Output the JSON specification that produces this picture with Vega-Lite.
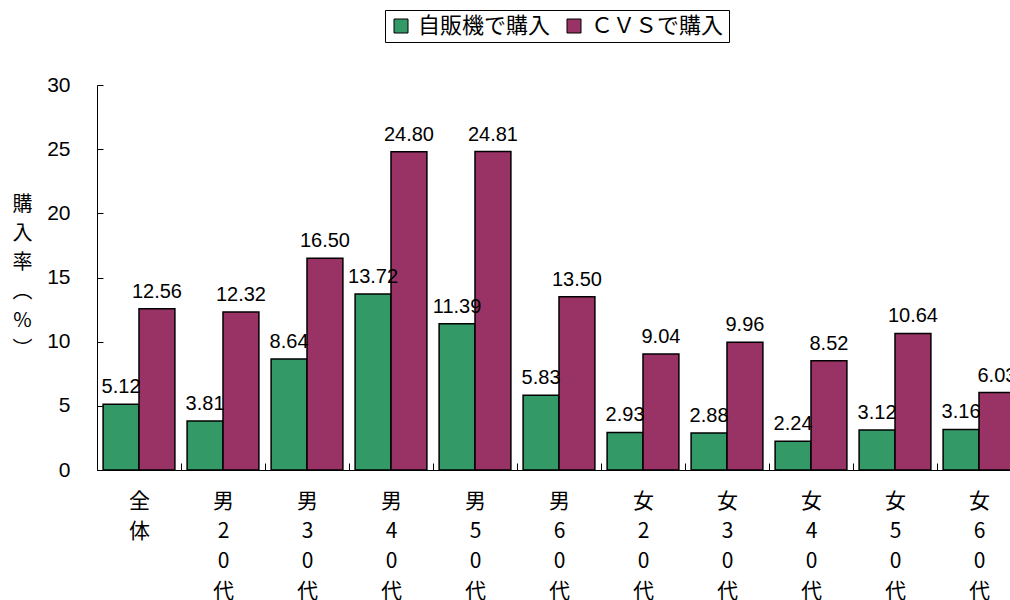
{
  "$schema": "https://vega.github.io/schema/vega-lite/v6.json",
  "width": 924,
  "height": 385,
  "autosize": {"type": "none"},
  "padding": {"left": 97, "top": 85, "right": 0, "bottom": 130},
  "background": "white",
  "config": {"view": {"stroke": null}},
  "data": {
    "values": [
      {"group": "全体", "type": "自販機で購入", "value": 5.12},
      {"group": "全体", "type": "ＣＶＳで購入", "value": 12.56},
      {"group": "男20代", "type": "自販機で購入", "value": 3.81},
      {"group": "男20代", "type": "ＣＶＳで購入", "value": 12.32},
      {"group": "男30代", "type": "自販機で購入", "value": 8.64},
      {"group": "男30代", "type": "ＣＶＳで購入", "value": 16.50},
      {"group": "男40代", "type": "自販機で購入", "value": 13.72},
      {"group": "男40代", "type": "ＣＶＳで購入", "value": 24.80},
      {"group": "男50代", "type": "自販機で購入", "value": 11.39},
      {"group": "男50代", "type": "ＣＶＳで購入", "value": 24.81},
      {"group": "男60代", "type": "自販機で購入", "value": 5.83},
      {"group": "男60代", "type": "ＣＶＳで購入", "value": 13.50},
      {"group": "女20代", "type": "自販機で購入", "value": 2.93},
      {"group": "女20代", "type": "ＣＶＳで購入", "value": 9.04},
      {"group": "女30代", "type": "自販機で購入", "value": 2.88},
      {"group": "女30代", "type": "ＣＶＳで購入", "value": 9.96},
      {"group": "女40代", "type": "自販機で購入", "value": 2.24},
      {"group": "女40代", "type": "ＣＶＳで購入", "value": 8.52},
      {"group": "女50代", "type": "自販機で購入", "value": 3.12},
      {"group": "女50代", "type": "ＣＶＳで購入", "value": 10.64},
      {"group": "女60代", "type": "自販機で購入", "value": 3.16},
      {"group": "女60代", "type": "ＣＶＳで購入", "value": 6.03}
    ]
  },
  "encoding": {
    "x": {
      "field": "group",
      "type": "nominal",
      "sort": null,
      "scale": {"paddingInner": 0, "paddingOuter": 0},
      "axis": {
        "title": null,
        "labelAngle": 0,
        "labelExpr": "split(datum.label, '')",
        "labelFont": "Noto Sans CJK JP",
        "labelFontSize": 21,
        "labelColor": "black",
        "labelLineHeight": 30,
        "labelBaseline": "top",
        "labelPadding": 27,
        "tickBand": "extent",
        "tickSize": -7,
        "tickColor": "black",
        "domainColor": "black",
        "domainWidth": 1
      }
    },
    "xOffset": {
      "field": "type",
      "type": "nominal",
      "sort": ["自販機で購入", "ＣＶＳで購入"],
      "scale": {"paddingInner": 0, "paddingOuter": 0.17}
    },
    "y": {
      "field": "value",
      "type": "quantitative",
      "scale": {"domain": [0, 30]},
      "axis": {
        "values": [0, 5, 10, 15, 20, 25, 30],
        "grid": false,
        "title": ["購", "入", "率", "︵", "%", "︶"],
        "titleAngle": 0,
        "titleFont": "Noto Sans CJK JP",
        "titleFontSize": 20,
        "titleFontWeight": "normal",
        "titleLineHeight": 29,
        "titleX": -75,
        "titleY": 109,
        "titleBaseline": "top",
        "titleAlign": "center",
        "labelFont": "Liberation Sans",
        "labelFontSize": 21,
        "labelColor": "black",
        "labelPadding": 33,
        "tickSize": -6,
        "tickColor": "black",
        "domainColor": "black"
      }
    }
  },
  "layer": [
    {
      "mark": {"type": "bar", "stroke": "black", "strokeWidth": 1.5},
      "encoding": {
        "fill": {
          "field": "type",
          "type": "nominal",
          "sort": ["自販機で購入", "ＣＶＳで購入"],
          "scale": {"domain": ["自販機で購入", "ＣＶＳで購入"], "range": ["#339966", "#993366"]},
          "legend": {
            "title": null,
            "orient": "none",
            "direction": "horizontal",
            "legendX": 288,
            "legendY": -75,
            "strokeColor": "black",
            "padding": 5,
            "symbolType": "square",
            "symbolSize": 196,
            "symbolStrokeColor": "black",
            "symbolStrokeWidth": 1,
            "symbolOpacity": 1,
            "labelFont": "Noto Sans CJK JP",
            "labelFontSize": 22,
            "labelColor": "black",
            "columnPadding": 12,
            "labelOffset": 6
          }
        }
      }
    },
    {
      "mark": {"type": "text", "baseline": "bottom", "dy": -7, "font": "Liberation Sans", "fontSize": 20, "color": "black"},
      "encoding": {
        "text": {"field": "value", "type": "quantitative", "format": ".2f"}
      }
    }
  ]
}
